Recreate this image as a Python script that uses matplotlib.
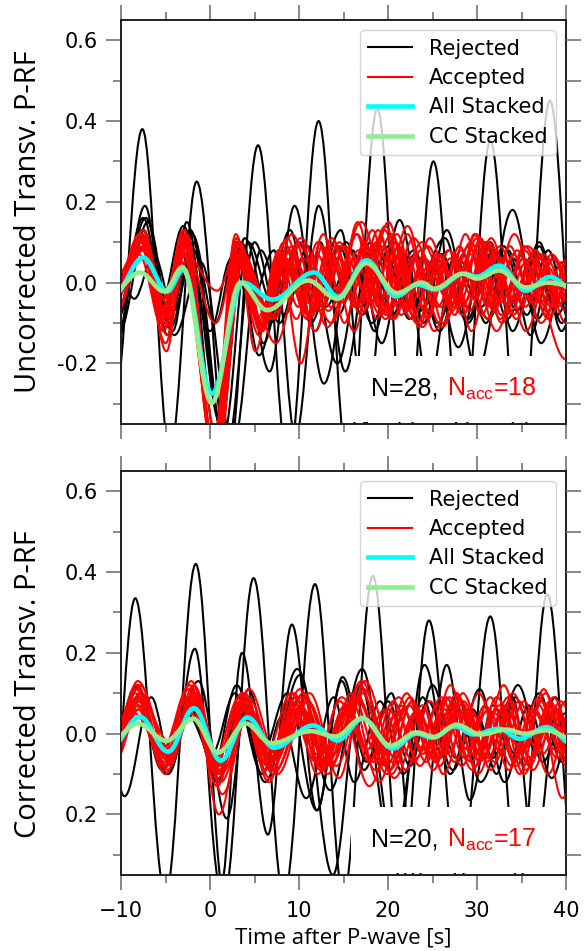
import numpy as np
import matplotlib
matplotlib.use("Agg")
import matplotlib.pyplot as plt
from matplotlib.path import Path
from matplotlib.patches import PathPatch
from matplotlib.lines import Line2D
from matplotlib.offsetbox import TextArea, HPacker, AnchoredOffsetbox

plt.rcParams['font.family'] = ['DejaVu Sans']
plt.rcParams['mathtext.fontset'] = 'custom'
plt.rcParams['mathtext.rm'] = 'Liberation Sans'
plt.rcParams['mathtext.it'] = 'Liberation Sans:italic'
plt.rcParams['mathtext.bf'] = 'Liberation Sans:bold'

# ---------------- data (extrema of each trace: (time [s], amplitude)) ----------------
x_limits = (-10, 40)
y_limits = (-0.35, 0.65)
legend_labels = ["Rejected", "Accepted", "All Stacked", "CC Stacked"]
top_counts = (28, 18)
bottom_counts = (20, 17)
top_ytick_values = [-0.2, 0.0, 0.2, 0.4, 0.6]
top_ytick_labels = ["-0.2", "0.0", "0.2", "0.4", "0.6"]
bottom_ytick_values = [-0.2, 0.0, 0.2, 0.4, 0.6]
bottom_ytick_labels = ["0.2", "0.0", "0.2", "0.4", "0.6"]
top_ylabel = "Uncorrected Transv. P-RF"
bottom_ylabel = "Corrected Transv. P-RF"
xlabel_text = "Time after P-wave [s]"

top_rejected = [
    [(-10.8,-0.30),(-7.6,0.38),(-4.5,-0.42),(-1.5,0.25),(2.0,-0.45),(5.4,0.34),(8.8,-0.45),(12.2,0.40),(15.5,-0.45),(18.8,0.43),(22.0,-0.45),(25.1,0.30),(28.3,-0.42),(31.5,0.35),(34.8,-0.45),(38.2,0.45),(41.5,-0.40)],
    [(-10.5,-0.15),(-7.3,0.19),(-4.8,-0.13),(-2.6,0.15),(0.8,-0.40),(3.5,0.10),(6.7,-0.22),(9.5,0.19),(12.8,-0.25),(16.0,0.08),(18.5,-0.12),(21.3,0.155),(24.0,-0.10),(26.6,0.13),(30.0,-0.22),(34.0,0.18),(37.2,-0.15),(40.5,0.08)],
    [(-10.6,-0.10),(-7.2,0.16),(-4.5,-0.09),(-2.3,0.08),(1.2,-0.35),(3.8,0.09),(6.0,-0.15),(8.6,0.05),(10.3,-0.05),(12.2,0.19),(15.2,-0.22),(18.0,0.10),(20.5,-0.08),(23.0,0.07),(25.8,-0.12),(28.5,0.07),(31.0,-0.10),(33.5,0.08),(36.0,-0.13),(38.5,0.06),(41.0,-0.05)],
    [(-10.2,-0.12),(-7.0,0.15),(-4.2,-0.12),(-2.0,0.12),(0.6,-0.10),(3.0,0.10),(5.5,-0.18),(9.0,0.13),(11.3,-0.10),(14.7,0.13),(17.5,-0.35),(20.0,0.09),(22.5,-0.06),(26.4,0.11),(29.0,-0.09),(31.5,0.10),(34.0,-0.12),(37.0,0.10),(39.5,-0.10),(42.0,0.05)],
    [(-11.0,-0.20),(-7.8,0.12),(-5.5,-0.05),(-3.0,0.14),(0.0,-0.12),(2.4,0.06),(4.6,-0.05),(7.2,0.08),(9.6,-0.38),(12.4,0.10),(14.4,-0.08),(16.8,0.05),(19.3,-0.15),(21.8,0.07),(24.6,-0.25),(27.4,0.06),(30.5,-0.06),(33.0,0.09),(35.6,-0.08),(38.0,0.08),(40.5,-0.10)],
    [(-10.5,-0.08),(-7.5,0.16),(-5.0,-0.07),(-2.2,0.13),(1.5,-0.38),(4.3,0.10),(7.0,-0.05),(9.3,0.06),(11.8,-0.12),(14.5,0.09),(17.1,-0.08),(19.8,0.07),(22.4,-0.09),(25.1,0.05),(27.9,-0.16),(31.0,0.10),(33.5,-0.06),(36.5,0.06),(39.0,-0.08),(41.5,0.05)],
    [(-10.8,-0.05),(-7.6,0.13),(-4.4,-0.11),(-1.9,0.10),(1.8,-0.42),(5.0,0.10),(7.8,-0.10),(10.4,0.06),(13.0,-0.06),(15.6,0.05),(18.0,-0.05),(20.8,0.10),(23.6,-0.07),(26.0,0.07),(29.0,-0.10),(31.8,0.08),(34.5,-0.07),(37.0,0.09),(39.5,-0.12),(42.0,0.05)],
    [(-10.6,-0.03),(-7.2,0.09),(-4.0,-0.13),(-1.0,0.05),(2.6,-0.40),(5.7,0.08),(8.4,-0.08),(11.0,0.09),(14.3,-0.20),(17.3,0.08),(20.0,-0.06),(22.9,0.08),(25.6,-0.10),(28.3,0.05),(31.3,-0.09),(34.0,0.06),(36.8,-0.09),(39.5,0.05),(42.0,-0.05)],
    [(-10.7,0.05),(-8.5,-0.04),(-6.3,0.07),(-4.1,-0.07),(-1.8,0.08),(1.0,-0.33),(3.9,0.11),(6.8,-0.10),(9.9,0.10),(12.6,-0.06),(15.3,0.10),(18.2,-0.10),(21.0,0.06),(23.3,-0.04),(26.0,0.07),(28.5,-0.05),(31.0,0.07),(33.4,-0.09),(36.3,0.07),(38.8,-0.05),(41.0,0.06)],
]

top_acc_times = [
    [-10.8,-7.6,-5.2,-2.9,0.5,3.2,5.9,8.5,11.1,13.7,16.3,18.9,21.5,24.1,26.7,29.3,31.9,34.5,37.1,39.7,42.3],
    [-11.0,-7.9,-4.8,-2.6,0.7,3.6,7.2,10.2,13.2,16.2,19.2,22.2,25.2,28.2,31.2,34.2,37.2,40.2,43.2],
    [-10.5,-7.4,-5.4,-3.1,0.4,3.0,5.1,7.4,9.7,12.0,14.3,16.6,18.9,21.2,23.5,25.8,28.1,30.4,32.7,35.3,40.0,43.0],
    [-11.2,-7.7,-5.0,-2.7,0.6,3.4,6.4,9.2,12.0,14.8,17.6,20.4,23.2,26.0,28.8,31.6,34.4,37.2,40.0,42.8],
    [-10.9,-7.5,-4.9,-2.8,0.5,3.1,5.4,7.8,10.2,12.6,15.0,17.4,19.8,22.2,24.6,27.0,29.4,31.8,34.2,36.6,39.0,41.4],
    [-10.6,-7.8,-5.3,-3.0,0.8,3.5,6.9,10.1,13.3,16.5,19.7,22.9,26.1,29.3,32.5,35.7,38.9,42.1],
    [-10.8,-7.6,-5.1,-2.7,0.8,3.4,5.8,8.5,11.2,13.9,16.6,19.3,22.0,24.7,27.4,30.1,32.8,35.5,38.2,40.9],
    [-11.0,-7.3,-4.7,-2.5,0.6,3.3,6.2,8.7,11.2,13.7,16.2,18.7,21.2,23.7,26.2,28.7,31.2,33.7,36.2,38.7,41.2],
    [-10.4,-7.7,-5.0,-2.9,0.3,2.9,5.2,8.1,11.0,13.9,16.8,19.7,22.6,25.5,28.4,31.3,34.2,37.1,40.0,42.9],
    [-11.1,-8.0,-5.2,-3.2,0.5,3.0,5.5,7.7,9.9,12.1,14.3,16.5,18.7,20.9,23.1,25.3,27.5,29.7,31.9,34.1,36.3,38.5,40.7],
    [-10.7,-7.4,-4.9,-2.6,0.7,3.7,7.4,10.5,13.6,16.7,19.8,22.9,26.0,29.1,32.2,35.3,38.4,41.5],
    [-10.9,-7.8,-5.5,-3.0,0.4,3.2,6.6,9.2,11.8,14.4,17.0,19.6,22.2,24.8,27.4,30.0,32.6,35.2,37.8,40.4],
    [-11.0,-7.5,-5.1,-2.8,0.6,3.5,5.7,8.05,10.4,12.75,15.1,17.45,19.8,22.15,24.5,26.85,29.2,31.55,33.9,36.25,38.6,40.95],
    [-10.6,-7.6,-4.8,-2.7,0.5,3.1,6.5,9.4,12.3,15.2,18.1,21.0,23.9,26.8,29.7,32.6,35.5,38.4,41.3],
    [-10.8,-7.9,-5.3,-3.1,0.7,3.3,5.6,8.3,11.0,13.7,16.4,19.1,21.8,24.5,27.2,29.9,32.6,35.3,38.0,40.7],
    [-11.2,-7.4,-5.0,-2.9,0.4,3.0,6.8,10.2,13.6,17.0,20.4,23.8,27.2,30.6,34.0,37.4,40.8],
    [-10.5,-7.7,-5.2,-2.6,0.6,3.6,6.0,8.45,10.9,13.35,15.8,18.25,20.7,23.15,25.6,28.05,30.5,32.95,35.4,37.85,40.3],
    [-10.9,-7.6,-5.0,-3.0,0.5,3.2,6.3,9.05,11.8,14.55,17.3,20.05,22.8,25.55,28.3,31.05,33.8,36.55,39.3,42.05],
]
top_acc_values = [
    [-0.05,0.12,-0.06,0.10,-0.42,0.09,-0.12,0.08,-0.05,0.11,-0.06,0.13,-0.08,0.06,-0.04,0.10,-0.07,0.08,-0.05,0.05,-0.04],
    [0.00,0.09,-0.11,0.12,-0.45,0.07,-0.09,0.10,-0.11,0.06,-0.08,0.14,-0.12,0.08,-0.09,0.12,-0.10,0.05,-0.03],
    [-0.03,0.13,-0.04,0.08,-0.40,0.11,-0.17,0.06,-0.09,0.07,-0.04,0.15,-0.06,0.09,-0.11,0.07,-0.05,0.11,-0.08,0.09,-0.19,0.05],
    [-0.06,0.10,-0.15,0.09,-0.44,0.06,-0.07,0.12,-0.04,0.09,-0.03,0.12,-0.10,0.04,-0.06,0.11,-0.09,0.06,-0.07,0.04],
    [-0.04,0.08,-0.17,0.11,-0.43,0.10,-0.10,0.07,-0.20,0.09,-0.05,0.10,-0.08,0.12,-0.07,0.06,-0.12,0.07,-0.04,0.08,-0.06,0.05],
    [-0.02,0.11,-0.07,0.13,-0.38,0.08,-0.08,0.09,-0.07,0.12,-0.09,0.06,-0.11,0.07,-0.05,0.09,-0.04,0.10],
    [-0.03,0.06,-0.02,0.07,-0.02,0.10,-0.11,0.06,-0.08,0.10,-0.05,0.09,-0.07,0.11,-0.06,0.08,-0.10,0.05,-0.08,0.04],
    [0.01,0.09,-0.09,0.06,-0.10,0.09,-0.06,0.11,-0.09,0.05,-0.12,0.10,-0.05,0.08,-0.10,0.12,-0.06,0.09,-0.05,0.06,-0.05],
    [-0.07,0.12,-0.08,0.09,-0.41,0.12,-0.09,0.05,-0.08,0.09,-0.06,0.14,-0.09,0.06,-0.08,0.10,-0.05,0.07,-0.10,0.06],
    [-0.04,0.07,-0.12,0.05,-0.39,0.06,-0.13,0.08,-0.06,0.10,-0.04,0.12,-0.09,0.10,-0.07,0.05,-0.08,0.12,-0.06,0.07,-0.05,0.06,-0.04],
    [-0.05,0.11,-0.05,0.09,-0.46,0.05,-0.15,0.06,-0.10,0.08,-0.07,0.11,-0.06,0.09,-0.12,0.08,-0.06,0.10],
    [-0.02,0.10,-0.10,0.11,-0.40,0.07,-0.06,0.09,-0.12,0.06,-0.08,0.13,-0.07,0.05,-0.05,0.11,-0.09,0.06,-0.08,0.07],
    [-0.06,0.13,-0.09,0.12,-0.43,0.08,-0.10,0.07,-0.05,0.12,-0.10,0.09,-0.08,0.07,-0.09,0.08,-0.07,0.09,-0.04,0.06,-0.06,0.05],
    [-0.08,0.08,-0.13,0.10,-0.44,0.09,-0.08,0.06,-0.07,0.09,-0.05,0.12,-0.11,0.08,-0.04,0.09,-0.12,0.07,-0.05],
    [-0.03,0.12,-0.06,0.08,-0.42,0.10,-0.12,0.10,-0.08,0.07,-0.06,0.11,-0.06,0.09,-0.07,0.12,-0.05,0.06,-0.09,0.06],
    [-0.04,0.09,-0.08,0.13,-0.41,0.08,-0.09,0.11,-0.06,0.15,-0.09,0.10,-0.05,0.10,-0.08,0.07,-0.06],
    [-0.01,0.10,-0.04,0.07,-0.47,0.07,-0.11,0.05,-0.09,0.08,-0.04,0.13,-0.09,0.06,-0.06,0.09,-0.08,0.06,-0.06,0.04,-0.05],
    [-0.05,0.11,-0.10,0.10,-0.43,0.06,-0.07,0.08,-0.07,0.10,-0.07,0.15,-0.08,0.07,-0.06,0.10,-0.07,0.08,-0.05,0.06],
]

top_all_stacked = [(-10.8,-0.03),(-7.5,0.062),(-4.8,-0.022),(-3.0,0.032),(0.2,-0.275),(3.7,0.0),(7.0,-0.042),(11.7,0.025),(14.4,-0.035),(17.6,0.055),(20.9,-0.034),(23.3,-0.005),(25.3,-0.017),(28.5,0.022),(30.0,0.015),(32.5,0.042),(35.5,-0.02),(38.2,0.014),(41.0,-0.02)]
top_cc_stacked = [(-10.8,-0.02),(-7.9,0.025),(-5.1,-0.022),(-3.1,0.038),(0.2,-0.298),(3.4,0.0),(6.4,-0.068),(11.0,0.005),(14.3,-0.04),(17.6,0.048),(21.0,-0.026),(23.8,0.0),(25.2,-0.015),(28.4,0.022),(30.0,0.01),(32.5,0.03),(35.5,-0.012),(38.0,0.0),(41.0,-0.01)]

bottom_rejected = [
    [(-11.6,-0.40),(-8.4,0.335),(-5.0,-0.40),(-1.6,0.42),(1.6,-0.40),(4.9,0.385),(8.3,-0.40),(11.8,0.37),(15.0,-0.40),(18.3,0.39),(21.5,-0.38),(24.6,0.28),(28.0,-0.38),(31.5,0.29),(34.7,-0.38),(37.9,0.345),(41.2,-0.40)],
    [(-12.0,0.05),(-9.6,-0.155),(-6.6,0.09),(-4.3,-0.08),(-1.7,0.21),(1.2,-0.38),(3.6,0.20),(6.5,-0.25),(9.2,0.27),(12.0,-0.19),(14.8,0.13),(17.3,-0.09),(20.4,0.10),(23.2,-0.37),(26.6,0.17),(29.2,-0.165),(31.8,0.07),(34.3,-0.05),(37.0,0.10),(39.5,-0.07),(42.0,0.05)],
    [(-10.9,-0.03),(-8.2,0.12),(-5.0,-0.10),(-1.3,0.13),(1.9,-0.21),(4.3,0.11),(6.8,-0.07),(10.1,0.145),(13.8,-0.35),(16.9,0.12),(20.5,-0.30),(23.9,0.09),(26.0,-0.05),(27.7,0.10),(30.4,-0.12),(34.0,0.09),(36.5,-0.30),(39.0,0.06),(41.5,-0.05)],
    [(-11.0,-0.04),(-8.4,0.115),(-4.7,-0.10),(-2.0,0.08),(0.8,-0.12),(3.2,0.06),(5.8,-0.05),(8.7,0.10),(12.0,-0.19),(14.9,0.14),(17.6,-0.07),(20.0,0.08),(22.5,-0.08),(25.0,0.12),(27.6,-0.06),(30.0,0.05),(32.2,-0.10),(34.3,0.09),(36.5,-0.04),(38.8,0.09),(41.0,-0.10)],
    [(-10.8,-0.06),(-7.8,0.10),(-5.2,-0.08),(-2.4,0.07),(0.4,-0.08),(3.0,0.12),(6.2,-0.12),(9.8,0.16),(13.5,-0.14),(17.1,0.16),(20.8,-0.30),(24.1,0.17),(27.0,-0.10),(29.5,0.06),(31.8,-0.06),(34.6,0.12),(37.4,-0.07),(39.9,0.05),(42.0,-0.02)],
    [(-11.0,-0.08),(-8.0,0.08),(-5.4,-0.09),(-2.6,0.05),(0.2,-0.05),(2.8,0.10),(5.9,-0.10),(8.0,0.04),(10.8,-0.16),(13.9,0.09),(16.2,-0.12),(19.1,0.08),(21.7,-0.10),(24.5,0.08),(27.3,-0.09),(30.3,0.11),(33.1,-0.12),(35.8,0.07),(38.4,-0.11),(41.0,0.06)],
]

bottom_accepted = [
    [(-10.9,-0.04),(-8.1,0.13),(-4.8,-0.05),(-1.8,0.10),(1.0,-0.20),(4.1,0.08),(7.0,-0.08),(10.4,0.06),(13.6,-0.08),(16.8,0.12),(20.2,-0.09),(23.0,0.05),(25.4,-0.07),(28.1,0.08),(30.9,-0.05),(33.5,0.09),(36.0,-0.06),(38.7,0.05),(41.2,-0.04)],
    [(-11.2,-0.02),(-8.4,0.10),(-5.2,-0.08),(-2.1,0.13),(0.8,-0.10),(3.8,0.06),(6.6,-0.12),(9.5,0.09),(12.8,-0.04),(15.9,0.08),(19.0,-0.12),(22.1,0.10),(24.6,-0.05),(27.0,0.12),(29.8,-0.08),(32.3,0.06),(34.8,-0.10),(37.5,0.11),(40.0,-0.06),(42.5,0.04)],
    [(-10.6,-0.06),(-7.8,0.09),(-4.6,-0.02),(-1.5,0.06),(1.3,-0.07),(4.4,0.11),(7.4,-0.05),(11.2,0.10),(14.5,-0.11),(17.4,0.13),(20.8,-0.06),(23.9,0.07),(26.2,-0.10),(28.9,0.06),(31.6,-0.09),(34.0,0.10),(36.8,-0.04),(39.4,0.08),(42.0,-0.05)],
    [(-11.0,-0.08),(-8.0,0.07),(-5.0,-0.10),(-2.0,0.09),(1.1,-0.09),(3.9,0.09),(6.9,-0.06),(9.2,0.05),(11.9,-0.07),(14.6,0.08),(17.9,-0.13),(21.4,0.07),(24.0,-0.04),(26.5,0.09),(29.3,-0.07),(32.0,0.05),(34.4,-0.08),(37.0,0.07),(39.6,-0.16),(42.0,0.03)],
    [(-10.8,0.00),(-8.3,0.11),(-4.9,-0.06),(-1.7,0.08),(1.2,-0.12),(4.2,0.04),(7.1,-0.10),(10.8,0.08),(13.9,-0.05),(17.1,0.10),(20.4,-0.10),(23.3,0.06),(25.9,-0.06),(28.4,0.10),(31.2,-0.06),(33.8,0.08),(36.3,-0.09),(38.9,0.06),(41.5,-0.04)],
    [(-11.3,-0.05),(-8.5,0.05),(-5.4,-0.04),(-2.3,0.12),(0.6,-0.08),(3.6,0.10),(6.4,-0.08),(9.4,0.10),(12.4,-0.09),(15.4,0.06),(18.3,-0.07),(21.0,0.05),(23.6,-0.08),(26.3,0.06),(29.0,-0.04),(31.5,0.09),(34.2,-0.07),(36.9,0.09),(39.5,-0.05),(42.0,0.04)],
    [(-10.7,-0.03),(-7.9,0.12),(-4.7,-0.04),(-1.9,0.07),(0.9,-0.11),(4.0,0.07),(7.2,-0.04),(10.1,0.11),(13.2,-0.10),(16.5,0.09),(19.7,-0.05),(22.5,0.09),(25.1,-0.09),(27.6,0.07),(30.4,-0.05),(33.0,0.12),(35.6,-0.07),(38.1,0.05),(40.7,-0.07)],
    [(-11.1,-0.06),(-8.2,0.09),(-5.1,-0.07),(-1.6,0.11),(1.4,-0.15),(4.3,0.05),(7.3,-0.09),(10.6,0.05),(13.0,-0.07),(15.9,0.10),(19.2,-0.08),(22.4,0.07),(24.8,-0.06),(27.3,0.08),(30.1,-0.10),(32.8,0.05),(35.0,-0.05),(37.7,0.10),(40.4,-0.08),(42.8,0.03)],
    [(-10.5,-0.01),(-8.0,0.08),(-5.3,-0.09),(-2.2,0.05),(0.7,-0.06),(3.7,0.08),(6.7,-0.11),(9.7,0.07),(12.6,-0.05),(15.2,0.07),(17.6,-0.04),(20.0,0.06),(22.9,-0.07),(25.6,0.07),(28.3,-0.08),(30.9,0.07),(33.6,-0.09),(36.2,0.06),(38.8,-0.04),(41.3,0.05)],
    [(-11.0,-0.07),(-8.3,0.12),(-4.9,-0.08),(-1.8,0.12),(1.0,-0.08),(3.9,0.07),(6.8,-0.07),(10.0,0.04),(12.2,-0.08),(15.0,0.05),(17.3,-0.03),(19.6,0.06),(22.0,-0.09),(24.7,0.08),(27.5,-0.07),(30.2,0.10),(32.7,-0.05),(35.3,0.08),(38.0,-0.10),(40.6,0.06)],
    [(-10.9,-0.03),(-7.7,0.10),(-5.0,-0.03),(-2.5,0.09),(0.5,-0.09),(3.4,0.08),(6.3,-0.05),(9.1,0.10),(12.1,-0.10),(15.2,0.07),(17.9,-0.07),(20.6,0.08),(23.2,-0.06),(26.0,0.09),(28.6,-0.06),(31.3,0.06),(33.9,-0.08),(36.5,0.06),(39.0,-0.06),(41.6,0.04)],
    [(-11.2,-0.04),(-8.0,0.06),(-4.6,-0.07),(-1.7,0.10),(1.2,-0.10),(4.5,0.06),(7.6,-0.10),(11.0,0.08),(14.2,-0.08),(17.3,0.11),(20.7,-0.11),(24.0,0.06),(26.6,-0.05),(29.2,0.06),(32.0,-0.07),(34.7,0.08),(37.4,-0.05),(40.0,0.08),(42.5,-0.04)],
    [(-10.8,-0.05),(-8.2,0.11),(-5.2,-0.05),(-2.0,0.08),(0.8,-0.13),(3.9,0.10),(6.9,-0.09),(10.3,0.09),(13.5,-0.06),(16.6,0.08),(19.8,-0.08),(22.8,0.08),(25.3,-0.07),(27.9,0.09),(30.6,-0.06),(33.2,0.07),(35.9,-0.08),(38.5,0.07),(41.1,-0.05)],
    [(-11.0,-0.02),(-8.6,0.08),(-5.5,-0.06),(-2.4,0.11),(0.4,-0.07),(3.3,0.09),(6.2,-0.09),(9.3,0.06),(12.0,-0.05),(14.8,0.09),(18.2,-0.06),(21.2,0.09),(23.9,-0.05),(26.7,0.05),(29.5,-0.09),(32.2,0.09),(35.0,-0.04),(37.3,0.08),(40.1,-0.08),(42.6,0.04)],
    [(-10.6,-0.05),(-7.9,0.10),(-4.8,-0.09),(-1.9,0.06),(1.0,-0.09),(4.0,0.06),(7.0,-0.07),(10.5,0.10),(13.8,-0.07),(17.0,0.13),(20.5,-0.07),(23.4,0.05),(25.8,-0.08),(28.5,0.08),(31.1,-0.07),(33.5,0.05),(36.1,-0.06),(38.6,0.09),(41.2,-0.05)],
    [(-11.1,-0.03),(-8.1,0.09),(-5.0,-0.06),(-2.2,0.07),(0.9,-0.10),(3.7,0.06),(6.6,-0.05),(9.8,0.08),(12.7,-0.09),(15.6,0.06),(18.6,-0.09),(21.7,0.06),(24.3,-0.07),(26.9,0.09),(29.6,-0.05),(32.5,0.07),(35.3,-0.10),(37.9,0.06),(40.6,-0.05)],
    [(-10.7,-0.07),(-8.0,0.06),(-4.9,-0.05),(-1.6,0.09),(1.3,-0.08),(4.3,0.09),(7.3,-0.06),(10.2,0.07),(13.1,-0.08),(16.4,0.10),(19.9,-0.10),(22.7,0.08),(25.2,-0.06),(27.7,0.10),(30.3,-0.07),(33.0,0.06),(35.5,-0.09),(38.2,0.08),(40.9,-0.09)],
]

bottom_all_stacked = [(-11.0,-0.03),(-7.9,0.042),(-4.7,-0.045),(-1.8,0.063),(1.2,-0.067),(4.2,0.04),(7.2,-0.035),(11.6,0.02),(14.3,-0.017),(17.2,0.037),(20.5,-0.037),(23.2,0.0),(25.0,-0.01),(27.5,0.018),(29.6,-0.002),(32.5,0.012),(34.8,-0.013),(37.8,0.016),(41.0,-0.03)]
bottom_cc_stacked = [(-11.0,-0.015),(-8.1,0.025),(-4.9,-0.018),(-1.9,0.037),(0.9,-0.047),(4.0,0.025),(6.9,-0.024),(11.3,0.006),(14.1,-0.007),(17.1,0.038),(20.3,-0.03),(23.2,0.003),(25.2,-0.008),(27.7,0.022),(30.4,-0.002),(33.3,0.01),(35.3,0.0),(37.8,0.008),(41.0,-0.015)]

# ---------------- drawing ----------------
def add_trace(ax, pairs, color, lw, z):
    verts = [pairs[0]]
    codes = [Path.MOVETO]
    for (t0, v0), (t1, v1) in zip(pairs[:-1], pairs[1:]):
        dt = t1 - t0
        verts += [(t0 + 0.36 * dt, v0), (t1 - 0.36 * dt, v1), (t1, v1)]
        codes += [Path.CURVE4] * 3
    ax.add_patch(PathPatch(Path(verts, codes), fill=False, edgecolor=color,
                           lw=lw, zorder=z, joinstyle='round', capstyle='round'))

TICK_COLOR = '0.45'
SPINE_COLOR = '0.12'

def style_axes(ax, ytick_vals, ytick_labs, show_xlabels):
    ax.set_xlim(x_limits)
    ax.set_ylim(y_limits)
    ax.set_xticks(np.arange(-10, 41, 10))
    ax.set_xticks(np.arange(-5, 40, 10), minor=True)
    ax.set_yticks(ytick_vals)
    ax.set_yticklabels(ytick_labs)
    ax.set_yticks([-0.3, -0.1, 0.1, 0.3, 0.5], minor=True)
    ax.tick_params(axis='both', which='major', direction='out', length=10.5, width=1.2,
                   color=TICK_COLOR, labelsize=15, pad=6)
    ax.tick_params(axis='x', which='major', pad=8)
    ax.tick_params(axis='both', which='minor', direction='out', length=6, width=1.2,
                   color=TICK_COLOR)
    ax.tick_params(axis='x', which='both', top=True, bottom=True, labelbottom=show_xlabels)
    ax.tick_params(axis='y', which='both', left=True, right=False)
    for s in ax.spines.values():
        s.set_color(SPINE_COLOR)
        s.set_linewidth(1.4)
    axr = ax.twinx()
    axr.set_ylim(y_limits)
    axr.set_yticks(np.arange(-0.3, 0.61, 0.1))
    axr.tick_params(axis='y', which='major', direction='out', length=10.5, width=1.2,
                    color=TICK_COLOR, labelright=False)
    for s in axr.spines.values():
        s.set_visible(False)

def draw_panel(ax, rejected, accepted, all_st, cc_st, counts, ytv, ytl, ylabel, label_y, show_x):
    for tr in rejected:
        add_trace(ax, tr, 'black', 1.5, 2.0)
    for tr in accepted:
        add_trace(ax, tr, 'red', 1.5, 2.1)
    add_trace(ax, all_st, 'cyan', 3.3, 3.0)
    add_trace(ax, cc_st, 'lightgreen', 3.3, 3.1)
    style_axes(ax, ytv, ytl, show_x)
    handles = [Line2D([], [], color='black', lw=1.5),
               Line2D([], [], color='red', lw=1.5),
               Line2D([], [], color='cyan', lw=3.3),
               Line2D([], [], color='lightgreen', lw=3.3)]
    leg = ax.legend(handles, legend_labels, loc='upper right', fontsize=15,
                    handlelength=2.1, labelspacing=0.45)
    leg.set_zorder(6)
    ax.set_ylabel(ylabel, fontsize=21, family='Open Sans')
    ax.yaxis.set_label_coords(-0.175, label_y)
    ta1 = TextArea("N=%d," % counts[0],
                   textprops=dict(color='black', fontsize=18, family='Liberation Sans'))
    ta2 = TextArea(r"$\mathrm{N}_{\mathrm{acc}}$=%d" % counts[1],
                   textprops=dict(color='red', fontsize=18, family='Liberation Sans'))
    pack = HPacker(children=[ta1, ta2], align='baseline', pad=0, sep=6)
    ab = AnchoredOffsetbox(loc='lower right', child=pack, pad=0.8, borderpad=0,
                           frameon=True, bbox_to_anchor=(0.978, 0.005),
                           bbox_transform=ax.transAxes, prop=dict(size=18))
    ab.patch.set_edgecolor('none')
    ab.patch.set_facecolor('white')
    ab.set_zorder(4)
    ax.add_artist(ab)

fig = plt.figure(figsize=(5.88, 9.51), dpi=100)
ax1 = fig.add_axes([121/588, 1 - 424/951, 445/588, 404/951])
ax2 = fig.add_axes([121/588, 1 - 875/951, 445/588, 404/951])

draw_panel(ax1, top_rejected,
           [list(zip(t, v)) for t, v in zip(top_acc_times, top_acc_values)],
           top_all_stacked, top_cc_stacked, top_counts,
           top_ytick_values, top_ytick_labels, top_ylabel, 0.5, False)
draw_panel(ax2, bottom_rejected, bottom_accepted,
           bottom_all_stacked, bottom_cc_stacked, bottom_counts,
           bottom_ytick_values, bottom_ytick_labels, bottom_ylabel, 0.473, True)
ax2.set_xlabel(xlabel_text, fontsize=16, family='Open Sans', labelpad=5)

fig.savefig("out.png", dpi=100)
